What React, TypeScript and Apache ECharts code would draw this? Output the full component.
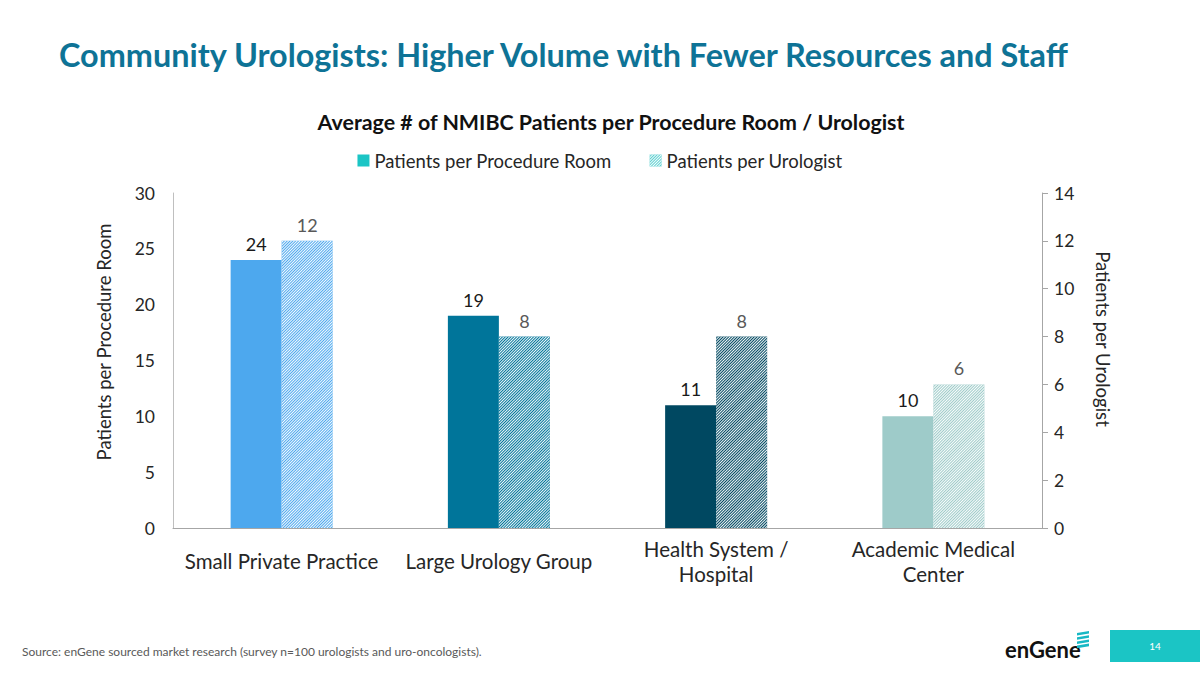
import React, { useEffect, useRef } from "react";
import * as echarts from "echarts";

const categories = [
  "Small Private Practice",
  "Large Urology Group",
  "Health System /\nHospital",
  "Academic Medical\nCenter",
];
const roomValues = [24, 19, 11, 10];
const urologistValues = [12, 8, 8, 6];
const barColors = ["#4DA8EE", "#00759A", "#004861", "#9ECBC9"];
const leftTicks = { min: 0, max: 30, interval: 5 };
const rightTicks = { min: 0, max: 14, interval: 2 };

const FONT = "Lato, 'Open Sans', sans-serif";

function hatch() {
  return {
    color: "rgba(255,255,255,0.95)",
    symbol: "rect",
    symbolSize: 1,
    dashArrayX: [1, 0],
    dashArrayY: [1, 1],
    rotation: -Math.PI / 4,
  };
}

export default function App() {
  const ref = useRef<HTMLDivElement>(null);
  useEffect(() => {
    if (!ref.current) return;
    const chart = echarts.init(ref.current, null, { renderer: "svg" });
    const option: any = {
      animation: false,
      backgroundColor: "#ffffff",
      textStyle: { fontFamily: FONT },
      title: [
        {
          text: "Community Urologists: Higher Volume with Fewer Resources and Staff",
          left: 54,
          top: 33,
          textStyle: { fontFamily: FONT, fontSize: 32.4, fontWeight: "bold", color: "#0E7396" },
        },
        {
          text: "Average # of NMIBC Patients per Procedure Room / Urologist",
          left: 606,
          textAlign: "center",
          top: 106,
          textStyle: { fontFamily: FONT, fontSize: 21.4, fontWeight: "bold", color: "#111111" },
        },
      ],
      legend: {
        top: 146,
        left: "center",
        itemWidth: 12,
        itemHeight: 12,
        itemGap: 38,
        icon: "rect",
        textStyle: { fontFamily: FONT, fontSize: 18.5, color: "#262626" },
        data: ["Patients per Procedure Room", "Patients per Urologist"],
      },
      grid: { left: 173, right: 158, top: 193, bottom: 147 },
      xAxis: {
        type: "category",
        data: categories,
        axisLine: { lineStyle: { color: "#A6A6A6", width: 1 } },
        axisTick: { show: false },
        axisLabel: {
          fontFamily: FONT,
          fontSize: 20.5,
          color: "#262626",
          margin: 33,
          verticalAlign: "middle",
          lineHeight: 25,
          interval: 0,
        },
      },
      yAxis: [
        {
          type: "value",
          ...leftTicks,
          axisLine: { show: true, lineStyle: { color: "#BFBFBF" } },
          axisTick: { show: false },
          splitLine: { show: false },
          axisLabel: { fontFamily: FONT, fontSize: 17.5, color: "#262626", margin: 18 },
        },
        {
          type: "value",
          ...rightTicks,
          axisLine: { show: true, lineStyle: { color: "#A6A6A6" } },
          axisTick: { show: true, length: 6, lineStyle: { color: "#A6A6A6" } },
          splitLine: { show: false },
          axisLabel: { fontFamily: FONT, fontSize: 17.5, color: "#262626", margin: 12 },
        },
      ],
      series: [
        {
          name: "Patients per Procedure Room",
          type: "bar",
          yAxisIndex: 0,
          barWidth: 51,
          barGap: "0%",
          itemStyle: { color: "#1BC5C5" },
          label: {
            show: true,
            position: "top",
            distance: 7,
            fontFamily: FONT,
            fontSize: 18,
            color: "#1a1a1a",
          },
          data: roomValues.map((v, i) => ({ value: v, itemStyle: { color: barColors[i] } })),
        },
        {
          name: "Patients per Urologist",
          type: "bar",
          yAxisIndex: 1,
          barWidth: 51,
          barGap: "0%",
          itemStyle: { color: "#5CCFD0", decal: hatch() },
          label: {
            show: true,
            position: "top",
            distance: 7,
            fontFamily: FONT,
            fontSize: 18,
            color: "#595959",
          },
          data: urologistValues.map((v, i) => ({
            value: v,
            itemStyle: { color: barColors[i], decal: hatch() },
          })),
        },
      ],
      graphic: [
        {
          type: "text",
          x: 104,
          y: 342,
          rotation: Math.PI / 2,
          style: {
            text: "Patients per Procedure Room",
            font: `18.5px ${FONT}`,
            fill: "#262626",
            align: "center",
            verticalAlign: "middle",
          },
        },
        {
          type: "text",
          x: 1103,
          y: 339,
          rotation: -Math.PI / 2,
          style: {
            text: "Patients per Urologist",
            font: `18.5px ${FONT}`,
            fill: "#262626",
            align: "center",
            verticalAlign: "middle",
          },
        },
        {
          type: "text",
          left: 22,
          top: 645,
          style: {
            text: "Source: enGene sourced market research (survey n=100 urologists and uro-oncologists).",
            font: `12px ${FONT}`,
            fill: "#595959",
          },
        },
        {
          type: "text",
          left: 1005,
          top: 638,
          style: { text: "enGene", font: `bold 22px ${FONT}`, fill: "#111111" },
        },
        {
          type: "group",
          left: 1077,
          top: 631,
          children: [0, 1, 2, 3].map((k) => ({
            type: "polygon",
            shape: {
              points: [
                [2, k * 4.2 + 2],
                [14, k * 4.2],
                [14, k * 4.2 + 2.6],
                [2, k * 4.2 + 4.6],
              ],
            },
            style: { fill: "#17B8C4" },
          })),
        },
        {
          type: "rect",
          shape: { x: 1110, y: 630, width: 90, height: 32 },
          style: { fill: "#1BC5C5" },
        },
        {
          type: "text",
          x: 1155,
          y: 646,
          style: {
            text: "14",
            font: `10px ${FONT}`,
            fill: "#ffffff",
            align: "center",
            verticalAlign: "middle",
          },
        },
      ],
    };
    chart.setOption(option);
    return () => chart.dispose();
  }, []);
  return (
    <div
      ref={ref}
      style={{ position: "fixed", left: 0, top: 0, width: 1200, height: 675, background: "#fff" }}
    />
  );
}
